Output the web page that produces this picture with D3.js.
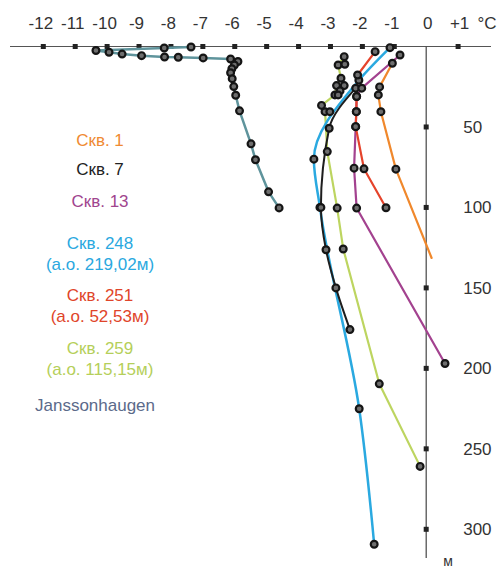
<!DOCTYPE html>
<html><head><meta charset="utf-8">
<script src="https://cdn.jsdelivr.net/npm/d3@7"></script>
<style>
html,body{margin:0;padding:0;background:#fff;}
svg{display:block;font-family:"Liberation Sans",Arial,sans-serif;}
</style></head>
<body>
<svg id="chart" width="500" height="570"></svg>
<script>
// ---- data ----
const tempTicks = [-12,-11,-10,-9,-8,-7,-6,-5,-4,-3,-2,-1,0,1];
const depthTicks = [50,100,150,200,250,300];

const seriesNames = ["Скв. 1","Скв. 7","Скв. 13","Скв. 248","Скв. 251","Скв. 259","Janssonhaugen"];

const skv1Temp  = [-1.06,-1.46,-1.50,-1.42,-0.95];
const skv1Depth = [10.4, 25.1, 30.1, 40.5, 76.2];
const skv1TailTemp  = [0.17];
const skv1TailDepth = [131.4];

const skv7Temp  = [-2.21,-3.04,-3.30,-3.14,-2.83,-2.39];
const skv7Depth = [25.9, 50.8, 100, 126.3, 150.0, 175.9];

const skv13Temp  = [-0.82,-2.02,-2.18,-2.19,-2.21,-2.26,-2.18,0.59];
const skv13Depth = [5.3, 25.9, 31.1, 40.5, 49.8, 75.6, 100.4, 197.0];

const skv248Temp  = [-1.135,-2.11,-3.52,-3.33,-2.10,-1.63];
const skv248Depth = [0.7, 21.0, 70.0, 100, 225.1, 309.3];

const skv251Temp  = [-1.60,-2.15,-2.18,-2.19,-2.21,-1.95,-1.26];
const skv251Depth = [3.2, 17.7, 31.1, 40.5, 49.8, 76.0, 100.2];

const skv259Temp  = [-2.57,-2.76,-2.67,-2.81,-2.86,-3.28,-3.17,-3.10,-2.79,-2.60,-1.47,-0.19];
const skv259Depth = [6.3, 11.5, 19.7, 24.3, 30.1, 36.6, 40.5, 65.3, 100.4, 125.8, 209.6, 260.9];

const extraTemp  = [-2.55,-2.57,-2.70,-2.76,-3.02];
const extraDepth = [11.0, 24.3, 27.6, 30.1, 40.5];

const janTemp  = [-7.37,-8.21,-10.35,-9.94,-9.53,-8.92,-8.20,-7.77,-6.99,-6.13,-5.90,-6.01,-6.09,-6.13,-6.08,-6.03,-5.97,-5.85,-5.49,-5.35,-4.94,-4.61];
const janDepth = [0.3, 0.9, 2.5, 3.6, 4.7, 5.7, 6.5, 6.7, 7.1, 7.8, 9.3, 11.5, 13.8, 16.3, 20.0, 24.9, 30.3, 40.0, 60.5, 70.4, 90.3, 100.3];

const legendLines = [
  ["Скв. 1"], ["Скв. 7"], ["Скв. 13"],
  ["Скв. 248","(а.о. 219,02м)"],
  ["Скв. 251","(а.о. 52,53м)"],
  ["Скв. 259","(а.о. 115,15м)"],
  ["Janssonhaugen"]
];

// ---- styles ----
const colors = ["#f0882c","#1e1e1e","#a3428f","#2aa9e0","#e5432b","#bdd560","#5f949c"];
const legendColors = ["#ef8a32","#222222","#a0458e","#2aa8e0","#e0452a","#b5cf5a","#5b6a8a"];

const zip = (t,d) => t.map((v,i)=>({t:v,d:d[i]}));
const series = [
  {name:seriesNames[6], pts:zip(janTemp,janDepth), tail:[], color:colors[6], w:2.5, smooth:false},
  {name:seriesNames[5], pts:zip(skv259Temp,skv259Depth), tail:[], color:colors[5], w:2.2, smooth:false},
  {name:seriesNames[3], pts:zip(skv248Temp,skv248Depth), tail:[], color:colors[3], w:2.5, smooth:true},
  {name:seriesNames[1], pts:zip(skv7Temp,skv7Depth), tail:[], color:colors[1], w:2, smooth:true},
  {name:seriesNames[2], pts:zip(skv13Temp,skv13Depth), tail:[], color:colors[2], w:2.2, smooth:false},
  {name:seriesNames[4], pts:zip(skv251Temp,skv251Depth), tail:[], color:colors[4], w:2.2, smooth:false},
  {name:seriesNames[0], pts:zip(skv1Temp,skv1Depth), tail:zip(skv1TailTemp,skv1TailDepth), color:colors[0], w:2.2, smooth:false},
];

const svg = d3.select("#chart");
const x = d3.scaleLinear().domain([-12,1]).range([43.3,458.1]);
const y = d3.scaleLinear().domain([0,300]).range([46.5,529.3]);

// top axis line
svg.append("line").attr("x1",10).attr("x2",491).attr("y1",y(0)).attr("y2",y(0))
  .attr("stroke","#555").attr("stroke-width",1);
// vertical axis
svg.append("line").attr("x1",x(0)).attr("x2",x(0)).attr("y1",y(0)).attr("y2",558)
  .attr("stroke","#444").attr("stroke-width",1.2);

// top axis labels
const fmt = d => d>0 ? "+"+d : (d<0 ? "-"+Math.abs(d) : "0");
const topAxis = svg.append("g").attr("transform",`translate(0,${y(0)})`)
  .call(d3.axisTop(x).tickValues(tempTicks).tickSize(0).tickPadding(17.5).tickFormat(fmt));
topAxis.select(".domain").remove();
topAxis.selectAll("text").attr("font-size",17).attr("fill","#333")
  .attr("dx",d=>d<0 ? -3 : 1)
  .attr("font-family","'Liberation Sans',Arial,sans-serif");
svg.append("text").attr("x",487).attr("y",y(0)-17.5).attr("text-anchor","middle")
  .attr("font-size",17).attr("fill","#333").text("°C");

// top square ticks
svg.append("g").selectAll("rect").data(tempTicks.filter(d=>d!==0)).join("rect")
  .attr("x",d=>x(d)-2.5).attr("y",y(0)-2.5).attr("width",5).attr("height",5).attr("fill","#222");

// right axis labels
const rightAxis = svg.append("g").attr("transform",`translate(${x(0)},0)`)
  .call(d3.axisRight(y).tickValues(depthTicks).tickSize(0).tickPadding(37));
rightAxis.select(".domain").remove();
rightAxis.selectAll("text").attr("font-size",17).attr("fill","#333")
  .attr("font-family","'Liberation Sans',Arial,sans-serif");
svg.append("g").selectAll("rect").data(depthTicks).join("rect")
  .attr("x",x(0)-2.5).attr("y",d=>y(d)-2.5).attr("width",5).attr("height",5).attr("fill","#222");
svg.append("text").attr("x",448).attr("y",566).attr("text-anchor","middle")
  .attr("font-size",14).attr("fill","#333").text("м");

// lines
const lineLin = d3.line().x(p=>x(p.t)).y(p=>y(p.d));
const lineSm = d3.line().x(p=>x(p.t)).y(p=>y(p.d)).curve(d3.curveMonotoneY);
svg.append("g").selectAll("path").data(series).join("path")
  .attr("d",s=>(s.smooth ? lineSm : lineLin)(s.pts.concat(s.tail)))
  .attr("fill","none").attr("stroke",s=>s.color).attr("stroke-width",s=>s.w)
  .attr("stroke-linejoin","round").attr("stroke-linecap","round");

// markers
const allPts = series.flatMap(s=>s.pts).concat(zip(extraTemp,extraDepth));
svg.append("g").selectAll("circle").data(allPts).join("circle")
  .attr("cx",p=>x(p.t)).attr("cy",p=>y(p.d)).attr("r",3.4)
  .attr("fill","#6e6e6e").attr("stroke","#151515").attr("stroke-width",2.2);

// legend
const legendY = [146,175,207,249,301,354,411];
const lg = svg.append("g").attr("font-size",17).attr("text-anchor","middle");
legendLines.forEach((lines,i)=>{
  lines.forEach((t,j)=>{
    lg.append("text").attr("x", i===6 ? 95 : 100).attr("y",legendY[i]+j*21)
      .attr("fill",legendColors[i]).text(t);
  });
});
</script>
</body></html>
